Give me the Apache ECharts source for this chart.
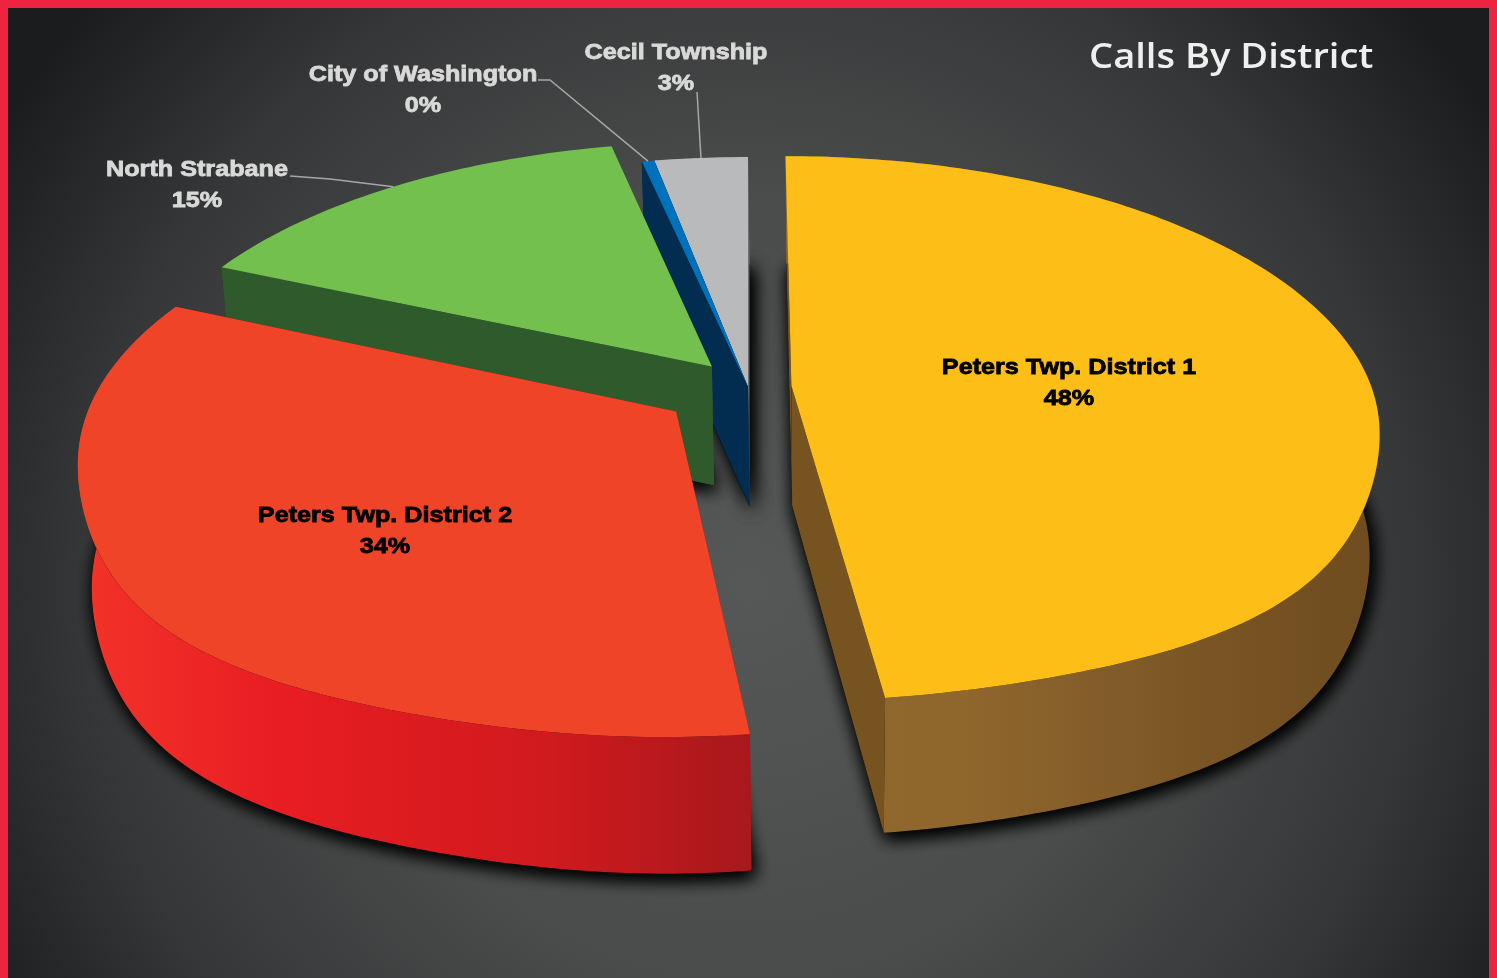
<!DOCTYPE html>
<html>
<head>
<meta charset="utf-8">
<title>Calls By District</title>
<script src="https://cdn.jsdelivr.net/npm/echarts@6/dist/echarts.min.js"></script>
<style>
    html, body { margin: 0; padding: 0; background: #ee2340; }
    #myChart { width: 1497px; height: 978px; }
</style>
</head>
<body>
<div id="myChart"></div>
<script>
const districts = ['Peters Twp. District 1', 'Peters Twp. District 2', 'North Strabane', 'City of Washington', 'Cecil Township']
const calls = [48.2, 33.8, 15, 0.4, 3]
const explode = [0.075, 0.152, 0.1, 0, 0]

const topColors = ['#fdbe17', '#f04428', '#73c04f', '#0072bc', '#b9babc']
const faceColors = ['#77541f', '#a6181c', '#2f5a2c', '#022c50', '#6e6f71']
const wallStops = [
    ['#90682e', '#8f672d', '#7a5525', '#6e4c1f'],
    ['#f33329', '#e81d22', '#d01a1e', '#a7181c'],
    ['#2f5a2c', '#2f5a2c', '#2f5a2c', '#2f5a2c'],
    ['#022c50', '#022c50', '#022c50', '#022c50'],
    ['#6e6f71', '#6e6f71', '#6e6f71', '#6e6f71']
]
// back to front
const drawOrder = [4, 3, 2, 0, 1]

const labelPos = [[1069, 368], [385, 516], [197, 170], [423, 75], [676, 53]]
const labelColors = ['#000', '#000', '#d9d9d9', '#d9d9d9', '#d9d9d9']
const leaderStart = [null, null, [290, 176], [538, 80], [697, 92]]
const leaderBend = [null, null, [330, 179], [550, 80], [697, 92]]

// camera of the tilted pie
const cx = 748, cy = 387, rx = 580, ry = 266, depth = 122, persp = 0.157, shrink = 0.018, lean = 1.5
// the front of the reference pie is fuller than a true circle
const bulge = 0.035

const total = calls.reduce((a, b) => a + b, 0)
const startAngle = []
calls.reduce((acc, v, i) => {
    startAngle[i] = acc
    return acc + v / total * Math.PI * 2
}, 0)

function project(u, v, z) {
    let w = 1 - persp * v + shrink * z
    return [cx + rx * u / w + lean * z, cy + (ry * v + depth * z) / w]
}

function sliceGeom(i) {
    let a0 = startAngle[i]
    let a1 = a0 + calls[i] / total * Math.PI * 2
    let mid = (a0 + a1) / 2
    let ou = explode[i] * Math.sin(mid)
    let ov = -explode[i] * Math.cos(mid)
    let rim = (a, z) => {
        let r = 1
        if (Math.cos(a) < 0) r += bulge * Math.pow(Math.sin(2 * a), 4)
        return project(ou + r * Math.sin(a), ov - r * Math.cos(a), z)
    }
    let arc = (z) => {
        let pts = []
        let n = Math.max(4, Math.ceil((a1 - a0) * 60))
        for (let k = 0; k <= n; k++) {
            pts.push(rim(a0 + (a1 - a0) * k / n, z))
        }
        return pts
    }
    return {
        apexTop: project(ou, ov, 0),
        apexBottom: project(ou, ov, 1),
        top: arc(0),
        bottom: arc(1),
        midPoint: rim(mid, 0)
    }
}

function renderSlice(params, api) {
    let i = api.value(0)
    let g = sliceGeom(i)
    let rank = drawOrder.indexOf(i) * 10
    let first = g.top.length - 1
    let stops = wallStops[i]
    let footprint = {
        type: 'polygon', z2: rank,
        shape: { points: [g.apexBottom].concat(g.bottom) },
        style: { fill: '#000', shadowColor: '#000', shadowBlur: 18, shadowOffsetX: 3, shadowOffsetY: 5 }
    }
    let children = [
        // footprint only casts the shadow on the backdrop, twice to get it as dark as the reference
        footprint,
        Object.assign({}, footprint),
        {
            type: 'polygon', z2: rank + 1,
            shape: { points: [g.apexTop, g.top[0], g.bottom[0], g.apexBottom] },
            style: { fill: faceColors[i] }
        },
        {
            type: 'polygon', z2: rank + 1,
            shape: { points: [g.apexTop, g.top[first], g.bottom[first], g.apexBottom] },
            style: { fill: faceColors[i] }
        },
        {
            type: 'polygon', z2: rank + 2,
            shape: { points: g.top.concat(g.bottom.slice().reverse()) },
            style: {
                fill: {
                    type: 'linear', x: 0, y: 0, x2: 1, y2: 0,
                    colorStops: [
                        { offset: 0, color: stops[0] },
                        { offset: 0.3, color: stops[1] },
                        { offset: 0.7, color: stops[2] },
                        { offset: 1, color: stops[3] }
                    ]
                }
            }
        },
        {
            type: 'polygon', z2: rank + 3,
            shape: { points: [g.apexTop].concat(g.top) },
            style: { fill: topColors[i] }
        }
    ]

    if (leaderStart[i]) {
        children.push({
            type: 'polyline', z2: 100,
            shape: { points: [leaderStart[i], leaderBend[i], g.midPoint] },
            style: { fill: null, stroke: '#a6a6a6', lineWidth: 1.5 }
        })
    }

    let pct = Math.round(calls[i] / total * 100) + '%'
    let textStyle = {
        fill: labelColors[i], stroke: labelColors[i], lineWidth: 0.8,
        font: 'bold 22px "Liberation Sans", Arial, sans-serif',
        align: 'center', verticalAlign: 'middle'
    }
    children.push({
        type: 'text', z2: 110, x: labelPos[i][0], y: labelPos[i][1], scaleX: 1.145,
        style: Object.assign({ text: districts[i] }, textStyle)
    })
    children.push({
        type: 'text', z2: 110, x: labelPos[i][0], y: labelPos[i][1] + 31, scaleX: 1.145,
        style: Object.assign({ text: pct }, textStyle)
    })

    return { type: 'group', children: children }
}

let myChart = echarts.init(document.getElementById('myChart'), null, { renderer: 'canvas' })

myChart.setOption({
    animation: false,
    backgroundColor: new echarts.graphic.RadialGradient(0.5, 0.6, 0.9, [
        { offset: 0, color: '#565858' },
        { offset: 0.45, color: '#4a4c4c' },
        { offset: 0.75, color: '#353738' },
        { offset: 1, color: '#1a1c1d' }
    ]),
    graphic: [
        { type: 'rect', z: 100, shape: { x: 0, y: 0, width: 1497, height: 8 }, style: { fill: '#ee2340' } },
        { type: 'rect', z: 100, shape: { x: 0, y: 0, width: 8, height: 978 }, style: { fill: '#ee2340' } },
        { type: 'rect', z: 100, shape: { x: 1489, y: 0, width: 8, height: 978 }, style: { fill: '#ee2340' } },
        {
            type: 'text', z: 100, x: 1089, y: 58, scaleX: 1.12,
            style: {
                text: 'Calls By District',
                fill: '#efefef',
                font: '600 34px "Open Sans", sans-serif',
                verticalAlign: 'middle'
            }
        }
    ],
    series: [{
        type: 'custom',
        coordinateSystem: 'none',
        silent: true,
        clip: false,
        renderItem: renderSlice,
        data: drawOrder.map((i) => [i, calls[i]])
    }]
})
</script>
</body>
</html>
